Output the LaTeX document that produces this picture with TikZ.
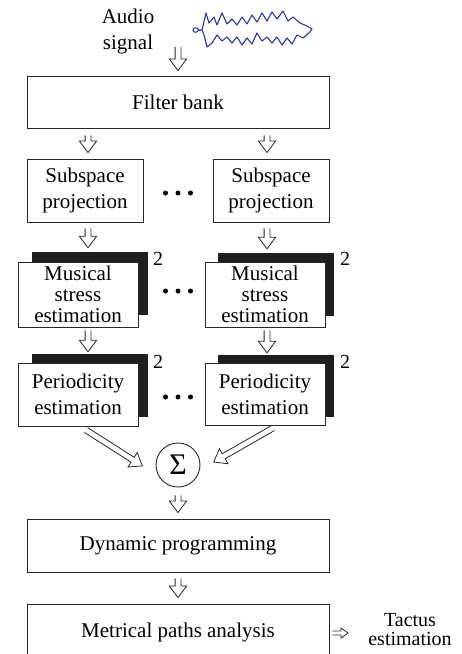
\documentclass[tikz,border=0pt]{standalone}
\usepackage{fontspec}
\setmainfont{Liberation Serif}
\usetikzlibrary{calc}
\begin{document}
\begin{tikzpicture}[x=1pt,y=-1pt,
  txt/.style={font=\fontsize{21}{26}\selectfont, align=center, inner sep=0pt},
  box/.style={draw=black!85, line width=0.9pt, fill=white, inner sep=0pt, align=center,
    font=\fontsize{21}{26}\selectfont},
  shadow/.style={fill=black!88, draw=none, inner sep=0pt},
  num/.style={font=\fontsize{20}{20}\selectfont, inner sep=0pt},
  dot/.style={circle, fill=black, inner sep=0pt, minimum size=5pt},
  % hollow double arrow: #1 shorten start, #2 shorten end, #3 half gap, #4 head half width, #5 head length
  dblarrow/.style n args={5}{draw=black!85, line width=0.8pt, line join=miter,
    to path={let \p1=($(\tikztostart)!#1!(\tikztotarget)$),
                 \p2=($(\tikztotarget)!#2!(\tikztostart)$),
                 \p3=($(\p2)!#5!(\p1)$) in
      ($(\p1)!#3!90:(\p2)$) -- ($(\p3)!#3!-90:(\p1)$) -- ($(\p3)!#4!-90:(\p1)$) -- (\p2)
      -- ($(\p3)!#4!90:(\p1)$) -- ($(\p3)!#3!90:(\p1)$) -- ($(\p1)!#3!-90:(\p2)$)}},
  dbl/.style 2 args={dblarrow={#1}{#2}{2.9pt}{8.6pt}{11.5pt}}
]
\useasboundingbox (0,0) rectangle (462,654);
\clip (0,0) rectangle (462,654);

% waveform
\draw[color={rgb,255:red,45;green,55;blue,155}, line width=1.1pt, line join=round]
  (199,30) .. controls (197,27) and (193,27) .. (193,30) .. controls (193,33) and (197,33) .. (199,30)
  -- (202,30) -- (206,13) -- (209,23) -- (214,17) -- (217,25) -- (222,13) -- (227,24) -- (232,19)
  -- (237,25) -- (242,17) -- (247,24) -- (252,15) -- (257,22) -- (262,13) -- (267,21) -- (272,12)
  -- (277,19) -- (283,11) -- (288,21) -- (293,17) -- (300,23) -- (307,26) -- (312,29)
  -- (310,32) -- (303,38) -- (297,35) -- (292,44) -- (287,38) -- (282,45) -- (277,37) -- (272,43)
  -- (267,37) -- (262,41) -- (257,33) -- (252,44) -- (247,38) -- (242,45) -- (237,37) -- (232,43)
  -- (227,37) -- (222,41) -- (217,35) -- (212,43) -- (207,47) -- (204,35) -- (202,30);

\node[txt] (audio) at (128,31) {Audio\\signal};
\coordinate (ain) at (178,47);

\node[box, minimum width=302pt, minimum height=52pt] (fb) at (178,102) {Filter bank};

\node[box, minimum width=116pt, minimum height=63pt] (spL) at (85,190.5) {Subspace\\projection};
\node[box, minimum width=116pt, minimum height=63pt] (spR) at (271,190.5) {Subspace\\projection};

\node[shadow, minimum width=116pt, minimum height=63pt] (msLs) at (90,283.5) {};
\node[box, minimum width=120pt, minimum height=65pt, font=\fontsize{21}{21}\selectfont] (msL) at (78,294.5) {Musical\\stress\\estimation};
\node[shadow, minimum width=116pt, minimum height=63pt] (msRs) at (276,284.5) {};
\node[box, minimum width=120pt, minimum height=65pt, font=\fontsize{21}{21}\selectfont] (msR) at (265,294.5) {Musical\\stress\\estimation};

\node[shadow, minimum width=116pt, minimum height=63pt] (peLs) at (90,385.5) {};
\node[box, minimum width=120pt, minimum height=63pt] (peL) at (78,394.5) {Periodicity\\estimation};
\node[shadow, minimum width=116pt, minimum height=62pt] (peRs) at (276,386) {};
\node[box, minimum width=120pt, minimum height=62pt] (peR) at (265,394.5) {Periodicity\\estimation};

\node[num] (n1) at (158,259) {2};
\node[num] (n2) at (345,259) {2};
\node[num] (n3) at (158,362) {2};
\node[num] (n4) at (345,362) {2};

\foreach \y/\n in {193/a,291/b,397/c}{
  \node[dot] (d\n1) at (165.5,\y) {};
  \node[dot] (d\n2) at (178,\y) {};
  \node[dot] (d\n3) at (190.5,\y) {};
}

\node[circle, draw=black!85, line width=0.9pt, minimum size=44pt, inner sep=0pt,
  font=\fontsize{30}{30}\selectfont] (sum) at (178,465) {Σ};

\node[box, minimum width=302pt, minimum height=53pt] (dp) at (178,545.5) {Dynamic programming};
\node[box, minimum width=302pt, minimum height=60pt] (mp) at (178,634) {};
\node[txt] (mptext) at (178,632) {Metrical paths analysis};
\node[txt, font=\fontsize{20}{19}\selectfont] (tac) at (410,630) {Tactus\\estimation};

% column coordinates
\coordinate (cL) at (88,0);
\coordinate (cR) at (267,0);
\coordinate (pl) at (86,430);
\coordinate (pr) at (273,428);
\coordinate (tacin) at (348,633);

\draw[dbl={0pt}{5pt}] (ain) to (fb.north);
\draw[dbl={7pt}{6pt}] (fb.south -| cL) to (spL.north -| cL);
\draw[dbl={7pt}{6pt}] (fb.south -| cR) to (spR.north -| cR);
\draw[dbl={6pt}{4pt}] (spL.south -| cL) to (msLs.north -| cL);
\draw[dbl={6pt}{4pt}] (spR.south -| cR) to (msRs.north -| cR);
\draw[dbl={3pt}{2pt}] (msL.south -| cL) to (peLs.north -| cL);
\draw[dbl={3pt}{2pt}] (msR.south -| cR) to (peRs.north -| cR);
\draw[dbl={0pt}{2pt}] (pl) to ($(sum.center)+(-34,2)$);
\draw[dbl={0pt}{2pt}] (pr) to ($(sum.center)+(34,-2)$);
\draw[dbl={8pt}{6pt}] (sum.south) to (dp.north);
\draw[dbl={6pt}{6pt}] (dp.south) to (mp.north);
\draw[dblarrow={3pt}{0pt}{2pt}{5pt}{7pt}] (mp.east |- tacin) to (tacin);
\end{tikzpicture}
\end{document}
